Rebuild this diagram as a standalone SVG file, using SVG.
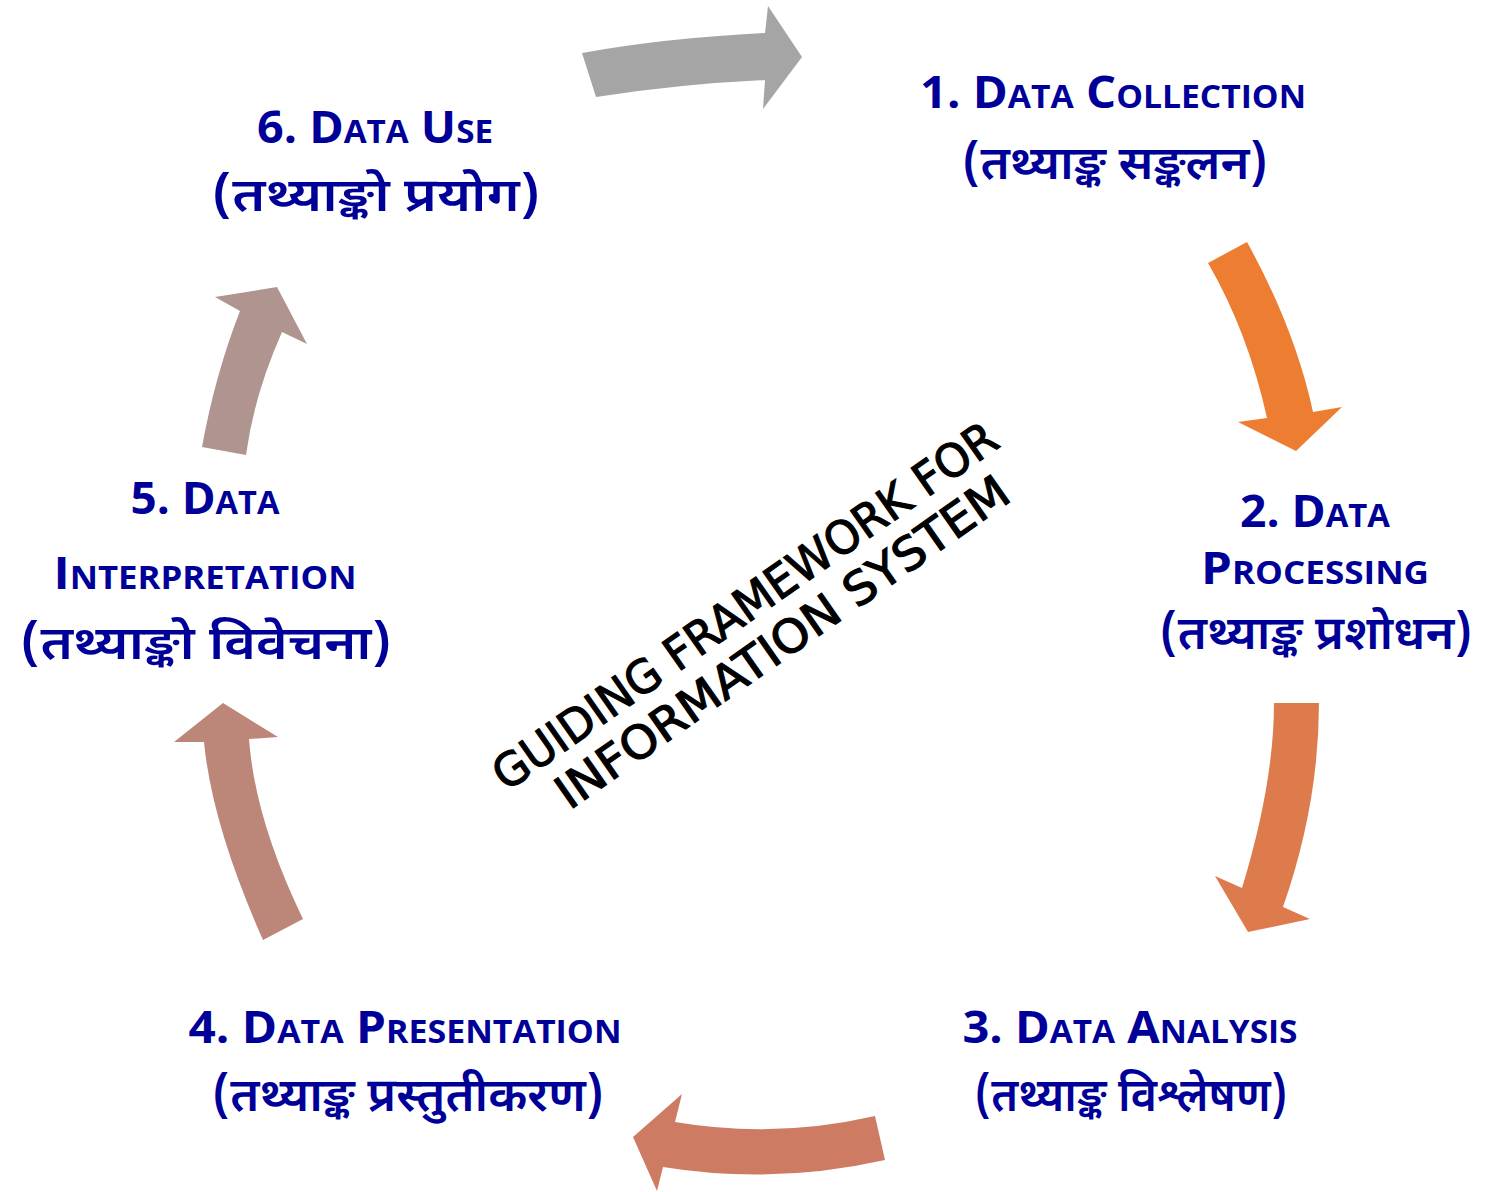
<svg xmlns="http://www.w3.org/2000/svg" width="1502" height="1192" viewBox="0 0 1502 1192">
<style>
.en{font-family:"Open Sans","Liberation Sans",sans-serif;font-weight:bold;font-size:45px;fill:#000099;text-anchor:middle}
.sc{font-size:32px}
.dv{font-family:"Noto Sans Devanagari","Lohit Devanagari","Noto Sans",sans-serif;font-weight:600;font-size:47px;fill:#000099;text-anchor:middle}
.ctr{font-family:"DejaVu Sans","Liberation Sans",sans-serif;font-weight:normal;font-size:46px;fill:#000000;stroke:#000000;stroke-width:1.2px;text-anchor:middle}
</style>
<rect width="1502" height="1192" fill="#ffffff"/>
<g id="connectors">
<path id="a1" fill="#A5A5A5" d="M582,53 Q665,38 765,33 L768,6 L802,57 L763,109 L765,80 Q680,84 596,97 Z"/>
<path id="a2" fill="#ED7D31" d="M1208,263 L1247,242 Q1295,329 1313,412 L1342,407 L1296,451 L1238,422 L1267,418 Q1248,332 1208,263 Z"/>
<path id="a3" fill="#DE7B4C" d="M1274,703 L1319,703 Q1319,804 1283,907 L1310,919 L1248,932 L1215,876 L1242,888 Q1274,783 1274,703 Z"/>
<path id="a4" fill="#CD7C63" d="M875,1116 L885,1160 Q774,1185 663,1167 L657,1191 L633,1137 L682,1094 L675,1122 Q775,1139 875,1116 Z"/>
<path id="a5" fill="#BC8679" d="M303,919 L263,940 Q212,825 204,742 L174,742 L223,703 L278,737 L249,739 Q255,820 303,919 Z"/>
<path id="a6" fill="#B09490" d="M202,447 L246,455 Q254,395 282,332 L307,344 L277,287 L215,297 L240,311 Q215,375 202,447 Z"/>
</g>
<g id="node1">
<text class="en" x="1113" y="108" textLength="386" lengthAdjust="spacingAndGlyphs">1. D<tspan class="sc">ATA</tspan> C<tspan class="sc">OLLECTION</tspan></text>
<text class="dv" x="1115" y="179" textLength="306" lengthAdjust="spacingAndGlyphs">(तथ्याङ्क सङ्कलन)</text>
</g>
<g id="node2">
<text class="en" x="1315" y="527" textLength="150" lengthAdjust="spacingAndGlyphs">2. D<tspan class="sc">ATA</tspan></text>
<text class="en" x="1315" y="584" textLength="228" lengthAdjust="spacingAndGlyphs">P<tspan class="sc">ROCESSING</tspan></text>
<text class="dv" x="1316" y="649" textLength="313" lengthAdjust="spacingAndGlyphs">(तथ्याङ्क प्रशोधन)</text>
</g>
<g id="node3">
<text class="en" x="1130" y="1043" textLength="335" lengthAdjust="spacingAndGlyphs">3. D<tspan class="sc">ATA</tspan> A<tspan class="sc">NALYSIS</tspan></text>
<text class="dv" x="1131" y="1111" textLength="313" lengthAdjust="spacingAndGlyphs">(तथ्याङ्क विश्लेषण)</text>
</g>
<g id="node4">
<text class="en" x="405" y="1043" textLength="433" lengthAdjust="spacingAndGlyphs">4. D<tspan class="sc">ATA</tspan> P<tspan class="sc">RESENTATION</tspan></text>
<text class="dv" x="408" y="1111" textLength="392" lengthAdjust="spacingAndGlyphs">(तथ्याङ्क प्रस्तुतीकरण)</text>
</g>
<g id="node5">
<text class="en" x="205" y="514" textLength="149" lengthAdjust="spacingAndGlyphs">5. D<tspan class="sc">ATA</tspan></text>
<text class="en" x="205" y="589" textLength="303" lengthAdjust="spacingAndGlyphs">I<tspan class="sc">NTERPRETATION</tspan></text>
<text class="dv" x="206" y="659" textLength="372" lengthAdjust="spacingAndGlyphs">(तथ्याङ्को विवेचना)</text>
</g>
<g id="node6">
<text class="en" x="375" y="143" textLength="236" lengthAdjust="spacingAndGlyphs">6. D<tspan class="sc">ATA</tspan> U<tspan class="sc">SE</tspan></text>
<text class="dv" x="376" y="211" textLength="329" lengthAdjust="spacingAndGlyphs">(तथ्याङ्को प्रयोग)</text>
</g>
<g id="center" transform="translate(754,619) rotate(-35)">
<text class="ctr" x="0" y="0" textLength="604" lengthAdjust="spacingAndGlyphs">GUIDING FRAMEWORK FOR</text>
<text class="ctr" x="10" y="51" textLength="542" lengthAdjust="spacingAndGlyphs">INFORMATION SYSTEM</text>
</g>
</svg>
